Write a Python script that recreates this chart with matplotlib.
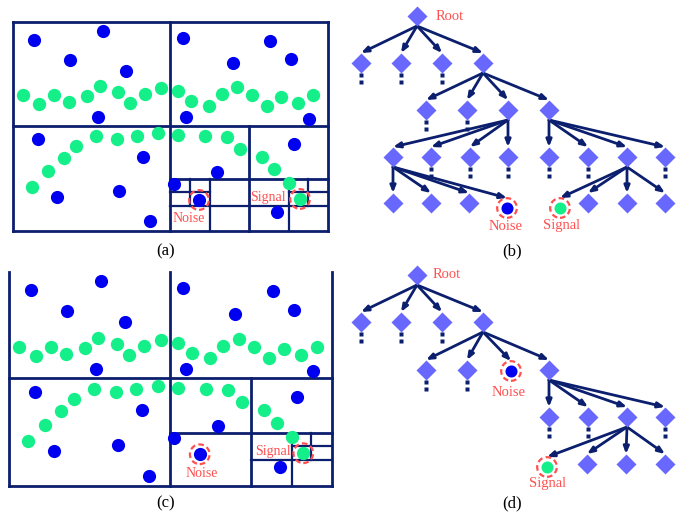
import matplotlib
matplotlib.use("Agg")
import matplotlib.pyplot as plt

plt.rcParams["font.family"] = "Liberation Serif"

NAVY = "#0c1f6e"
BLUE = "#0000f0"
GREEN = "#14ef8a"
DIAMOND = "#6868ff"
RED = "#ff5050"

# scatter points, in panel (a) pixel frame
blue_x = [34, 103, 70, 126, 98, 183, 270, 233, 291, 186, 309, 38, 143, 57, 119, 150, 217, 294, 174, 277]
blue_y = [40, 31, 60, 71, 117, 38, 41, 63, 59, 117, 119, 139, 157, 197, 191, 221, 172, 144, 184, 212]
green_x = [23, 39, 54, 69, 87, 100, 118, 130, 145, 161, 178, 191, 209, 222, 237, 252, 267, 281, 298, 313,
           32, 48, 64, 76, 96, 117, 137, 158, 178, 205, 227, 240, 262, 274, 289]
green_y = [95, 104, 95, 102, 96, 86, 92, 103, 94, 88, 91, 101, 106, 94, 87, 95, 106, 97, 103, 95,
           187, 171, 158, 146, 136, 139, 136, 133, 135, 136, 137, 149, 157, 169, 183]
noise_pt = (199, 200)
signal_pt = (300, 199)

# space partition segments (x0, y0, x1, y1)
grid_main = [(13, 22, 328, 22), (13, 231, 328, 231), (13, 22, 13, 231), (328, 22, 328, 231),
             (170, 22, 170, 231), (13, 126, 328, 126), (249, 126, 249, 231), (170, 179, 328, 179)]
grid_a = [(210, 179, 210, 231), (289, 179, 289, 231), (170, 206, 328, 206),
          (190, 179, 190, 206), (170, 192, 210, 192), (308, 179, 308, 206), (289, 192, 328, 192)]
grid_c = [(289, 179, 289, 231), (249, 206, 328, 206), (308, 179, 308, 206), (289, 192, 328, 192)]

# tree (b)
b_x = [417, 361, 401, 442, 483, 426, 467, 508, 549, 393, 431, 470, 508, 549, 588, 627, 665,
       393, 431, 469, 588, 627, 665]
b_y = [16, 63, 63, 63, 63, 110, 110, 110, 110, 157, 157, 157, 157, 157, 157, 157, 157,
       203, 203, 203, 203, 203, 203]
b_noise = (507, 208)
b_signal = (560, 208)
b_edges = [(0, 1), (0, 2), (0, 3), (0, 4), (4, 5), (4, 6), (4, 7), (4, 8),
           (7, 9), (7, 10), (7, 11), (7, 12), (8, 13), (8, 14), (8, 15), (8, 16),
           (9, 17), (9, 18), (9, 19), (9, "noise"), (15, "signal"), (15, 20), (15, 21), (15, 22)]
b_dots = [1, 2, 3, 5, 6, 10, 11, 12, 13, 14, 16]

# tree (d)
d_x = [417, 361, 401, 442, 483, 426, 467, 549, 549, 588, 627, 665, 587, 626, 665]
d_y = [275, 322, 322, 322, 322, 370, 370, 370, 417, 417, 417, 417, 464, 464, 464]
d_noise = (511, 371)
d_signal = (547, 467)
d_edges = [(0, 1), (0, 2), (0, 3), (0, 4), (4, 5), (4, 6), (4, "noise"), (4, 7),
           (7, 8), (7, 9), (7, 10), (7, 11), (10, "signal"), (10, 12), (10, 13), (10, 14)]
d_dots = [1, 2, 3, 5, 6, 8, 9, 11]


def draw_panel(ax, extra, noise_lbl, signal_lbl, top=True):
    ax.set_xlim(13, 328)
    ax.set_ylim(231, 22)
    ax.axis("off")
    for seg in grid_main:
        if not top and seg[1] == 22 and seg[3] == 22:
            continue
        ax.plot([seg[0], seg[2]], [seg[1], seg[3]], color=NAVY, lw=2.0,
                solid_capstyle="projecting", clip_on=False, zorder=1)
    for seg in extra:
        ax.plot([seg[0], seg[2]], [seg[1], seg[3]], color=NAVY, lw=1.6,
                solid_capstyle="projecting", clip_on=False, zorder=1)
    ax.scatter(green_x + [signal_pt[0]], green_y + [signal_pt[1]], s=92, color=GREEN,
               linewidths=0, clip_on=False, zorder=2)
    ax.scatter(blue_x + [noise_pt[0]], blue_y + [noise_pt[1]], s=90, color=BLUE,
               linewidths=0, clip_on=False, zorder=3)
    ax.scatter([noise_pt[0], signal_pt[0]], [noise_pt[1], signal_pt[1]], s=200,
               facecolors="none", edgecolors=RED, linewidths=1.6, linestyle=(0, (2.5, 1.5)),
               clip_on=False, zorder=4)
    ax.text(*noise_lbl, "Noise", color=RED, fontsize=10, ha="center", va="center", zorder=5)
    ax.text(*signal_lbl, "Signal", color=RED, fontsize=10, ha="center", va="center", zorder=5)


def draw_tree(ax, xs, ys, edges, dots, noise, signal, root_lbl, noise_lbl, signal_lbl):
    for p, c in edges:
        if c == "noise":
            cx, cy = noise
        elif c == "signal":
            cx, cy = signal
        else:
            cx, cy = xs[c], ys[c]
        ax.annotate("", xy=(cx, cy - 10), xytext=(xs[p], ys[p] + 10),
                    arrowprops=dict(arrowstyle="-|>,head_length=0.5,head_width=0.2",
                                    color=NAVY, lw=2.0, shrinkA=0, shrinkB=0,
                                    mutation_scale=8), zorder=1)
    ax.plot(xs, ys, "D", ms=10, color=DIAMOND, mec="none", zorder=3)
    for i in dots:
        ax.plot([xs[i], xs[i]], [ys[i] + 12, ys[i] + 19], "s", ms=2.2, color=NAVY,
                mec="none", zorder=3)
    ax.scatter([noise[0]], [noise[1]], s=75, color=BLUE, linewidths=0, zorder=3)
    ax.scatter([signal[0]], [signal[1]], s=75, color=GREEN, linewidths=0, zorder=3)
    ax.scatter([noise[0], signal[0]], [noise[1], signal[1]], s=200, facecolors="none",
               edgecolors=RED, linewidths=1.6, linestyle=(0, (2.5, 1.5)), zorder=4)
    ax.text(*root_lbl, "Root", color=RED, fontsize=10.5, ha="left", va="center")
    ax.text(*noise_lbl, "Noise", color=RED, fontsize=10.5, ha="center", va="center")
    ax.text(*signal_lbl, "Signal", color=RED, fontsize=10.5, ha="center", va="center")


fig = plt.figure(figsize=(6.8, 5.17), dpi=100)
bg = fig.add_axes([0, 0, 1, 1])
bg.set_xlim(0, 680)
bg.set_ylim(517, 0)
bg.axis("off")

ax_a = fig.add_axes([13 / 680, 1 - 231 / 517, 315 / 680, 209 / 517])
draw_panel(ax_a, grid_a, (189, 218), (268, 197))
ax_c = fig.add_axes([9 / 680, 1 - 486 / 517, 323 / 680, 214 / 517])
draw_panel(ax_c, grid_c, (201, 219), (270, 197), top=False)

draw_tree(bg, b_x, b_y, b_edges, b_dots, b_noise, b_signal, (436, 16), (506, 226), (562, 226))
draw_tree(bg, d_x, d_y, d_edges, d_dots, d_noise, d_signal, (433, 275), (509, 392), (548, 483))

for lbl, x, y in [("(a)", 166, 251), ("(b)", 512, 251), ("(c)", 166, 503), ("(d)", 512, 503)]:
    bg.text(x, y, lbl, fontsize=12, ha="center", va="center")

fig.savefig("out.png", dpi=100)
